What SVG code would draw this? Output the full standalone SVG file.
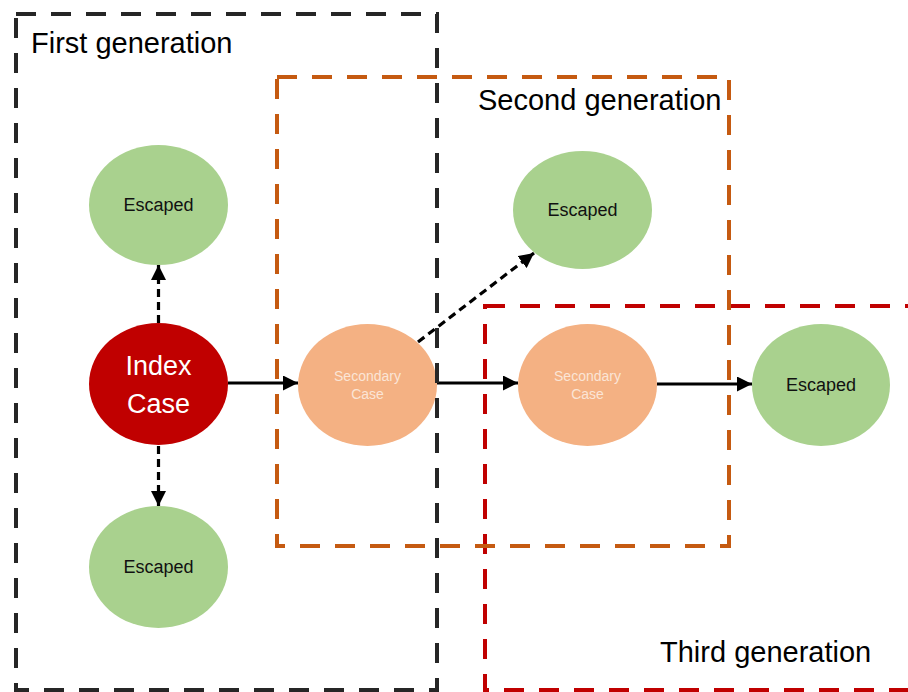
<svg xmlns="http://www.w3.org/2000/svg" width="908" height="692" viewBox="0 0 908 692">
  <style>
    .box { fill: none; stroke-width: 4; stroke-dasharray: 20 15; }
    .b1 { stroke: #262626; }
    .b2 { stroke: #c55a11; }
    .b3 { stroke: #c00000; }
    .lbl { font-family: "Liberation Sans", Arial, sans-serif; font-size: 29px; fill: #000; }
    .esc { fill: #a9d18e; }
    .idx { fill: #c00000; }
    .sec { fill: #f4b183; }
    .t-esc { font-family: "Liberation Sans", Arial, sans-serif; font-size: 18px; fill: #111; text-anchor: middle; }
    .t-idx { font-family: "Liberation Sans", Arial, sans-serif; font-size: 27px; fill: #fff; text-anchor: middle; }
    .t-sec { font-family: "Liberation Sans", Arial, sans-serif; font-size: 14px; fill: #fbe5d6; text-anchor: middle; }
    .conn { stroke: #000; stroke-width: 3.2; fill: none; }
    .dash { stroke-dasharray: 8 5; }
  </style>
  <defs>
    <marker id="ah" markerUnits="userSpaceOnUse" markerWidth="16" markerHeight="15" refX="15" refY="7.5" orient="auto">
      <path d="M0,0 L15,7.5 L0,15 Z" fill="#000"/>
    </marker>
  </defs>
  <rect width="908" height="692" fill="#fff"/>

  <g id="nodes">
    <g id="escaped-top-left">
      <ellipse class="esc" cx="158.5" cy="205" rx="69.5" ry="60"/>
      <text class="t-esc" x="158.5" y="211">Escaped</text>
    </g>
    <g id="index-case">
      <ellipse class="idx" cx="158.5" cy="384" rx="69.5" ry="61"/>
      <text class="t-idx" x="158.5" y="375">Index</text>
      <text class="t-idx" x="158.5" y="413">Case</text>
    </g>
    <g id="escaped-bottom-left">
      <ellipse class="esc" cx="158.5" cy="567" rx="69.5" ry="61"/>
      <text class="t-esc" x="158.5" y="573">Escaped</text>
    </g>
    <g id="secondary-case-1">
      <ellipse class="sec" cx="367.5" cy="385" rx="69.5" ry="61"/>
      <text class="t-sec" x="367.5" y="381">Secondary</text>
      <text class="t-sec" x="367.5" y="399">Case</text>
    </g>
    <g id="escaped-top-mid">
      <ellipse class="esc" cx="582.5" cy="210" rx="69.5" ry="59"/>
      <text class="t-esc" x="582.5" y="216">Escaped</text>
    </g>
    <g id="secondary-case-2">
      <ellipse class="sec" cx="587.5" cy="385" rx="69.5" ry="61"/>
      <text class="t-sec" x="587.5" y="381">Secondary</text>
      <text class="t-sec" x="587.5" y="399">Case</text>
    </g>
    <g id="escaped-right">
      <ellipse class="esc" cx="821" cy="385" rx="69" ry="61"/>
      <text class="t-esc" x="821" y="391">Escaped</text>
    </g>
  </g>

  <g id="connectors">
    <line class="conn dash" x1="158.5" y1="323" x2="158.5" y2="265" marker-end="url(#ah)"/>
    <line class="conn dash" x1="158.5" y1="446" x2="158.5" y2="506" marker-end="url(#ah)"/>
    <line class="conn" x1="228" y1="383" x2="298" y2="383" marker-end="url(#ah)"/>
    <line class="conn" x1="437" y1="383" x2="518" y2="383" marker-end="url(#ah)"/>
    <line class="conn" x1="657" y1="384" x2="752" y2="384" marker-end="url(#ah)"/>
    <line class="conn dash" x1="418" y1="342" x2="534" y2="253" marker-end="url(#ah)"/>
  </g>

  <g id="generation-boxes">
    <g id="third-generation">
      <rect class="box b3" x="485" y="306" width="440" height="384"/>
      <text class="lbl" x="660" y="662">Third generation</text>
    </g>
    <g id="second-generation">
      <rect class="box b2" x="277" y="77" width="452" height="469"/>
      <text class="lbl" x="478" y="110">Second generation</text>
    </g>
    <g id="first-generation">
      <rect class="box b1" x="16" y="14" width="421" height="676"/>
      <text class="lbl" x="31" y="53">First generation</text>
    </g>
  </g>
</svg>
